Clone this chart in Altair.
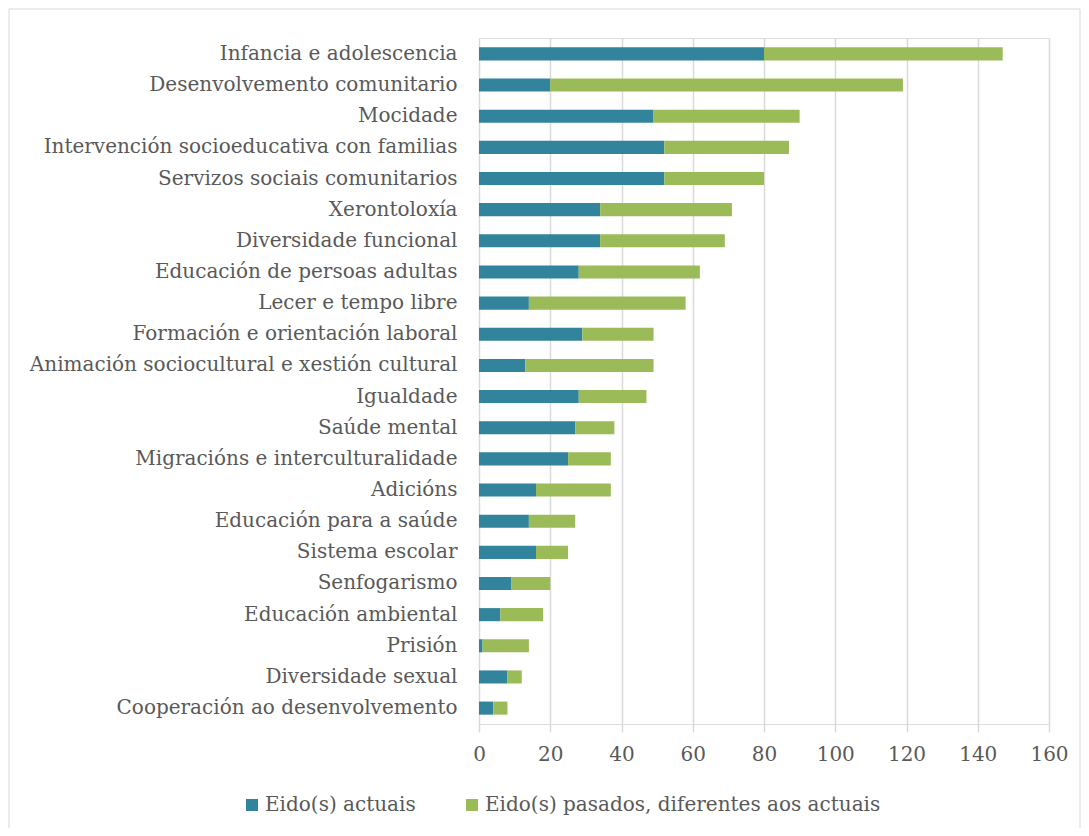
import altair as alt
import pandas as pd

categories = [
    "Infancia e adolescencia",
    "Desenvolvemento comunitario",
    "Mocidade",
    "Intervención socioeducativa con familias",
    "Servizos sociais comunitarios",
    "Xerontoloxía",
    "Diversidade funcional",
    "Educación de persoas adultas",
    "Lecer e tempo libre",
    "Formación e orientación laboral",
    "Animación sociocultural e xestión cultural",
    "Igualdade",
    "Saúde mental",
    "Migracións e interculturalidade",
    "Adicións",
    "Educación para a saúde",
    "Sistema escolar",
    "Senfogarismo",
    "Educación ambiental",
    "Prisión",
    "Diversidade sexual",
    "Cooperación ao desenvolvemento",
]
actuais = [80, 20, 49, 52, 52, 34, 34, 28, 14, 29, 13, 28, 27, 25, 16, 14, 16, 9, 6, 1, 8, 4]
pasados = [67, 99, 41, 35, 28, 37, 35, 34, 44, 20, 36, 19, 11, 12, 21, 13, 9, 11, 12, 13, 4, 4]
series = ["Eido(s) actuais", "Eido(s) pasados, diferentes aos actuais"]
colors = ["#31849B", "#9BBB59"]
x_ticks = [0, 20, 40, 60, 80, 100, 120, 140, 160]

rows = []
for c, a, p in zip(categories, actuais, pasados):
    rows.append({"eido": c, "serie": series[0], "valor": a, "ord": 0})
    rows.append({"eido": c, "serie": series[1], "valor": p, "ord": 1})
df = pd.DataFrame(rows)

FONT = "DejaVu Serif"
TXT = "#595959"
FS = 20

bars = alt.Chart(df).mark_bar().encode(
    y=alt.Y("eido:N", sort=categories, title=None,
            scale=alt.Scale(paddingInner=0.58, paddingOuter=0.3),
            axis=alt.Axis(ticks=False, domain=False, labelPadding=22, labelFontSize=FS,
                          labelColor=TXT, labelFont=FONT, labelLimit=0, grid=False)),
    x=alt.X("valor:Q", stack="zero", title=None,
            scale=alt.Scale(domain=[0, 160], nice=False),
            axis=alt.Axis(values=x_ticks, grid=True, gridColor="#d9d9d9", gridWidth=1.5,
                          domain=False, tickSize=8, tickColor="#d9d9d9", tickWidth=1.5,
                          labelFlush=False, labelPadding=12, labelFontSize=FS,
                          labelColor=TXT, labelFont=FONT)),
    color=alt.Color("serie:N", sort=series,
                    scale=alt.Scale(domain=series, range=colors),
                    legend=alt.Legend(title=None, orient="none", legendX=-237, legendY=757,
                                      direction="horizontal", columns=2, columnPadding=46,
                                      symbolType="square", symbolSize=144, symbolStrokeWidth=0,
                                      labelFontSize=FS, labelColor=TXT, labelFont=FONT,
                                      labelOffset=3, labelLimit=0)),
    order=alt.Order("ord:Q"),
)

frame = alt.Chart(pd.DataFrame({"a": [0]})).mark_rect(
    fill=None, stroke="#d9d9d9", strokeWidth=1
).encode(
    x=alt.value(-470), x2=alt.value(601), y=alt.value(-29), y2=alt.value(796)
)

chart = alt.layer(frame, bars).properties(
    width=570, height=686,
    autosize=alt.AutoSizeParams(type="none"),
    padding={"left": 471, "top": 30, "right": 32, "bottom": 104},
).configure_view(stroke=None).configure(background="white")

chart.save("out.html", embed_options={"renderer": "svg", "actions": False})
